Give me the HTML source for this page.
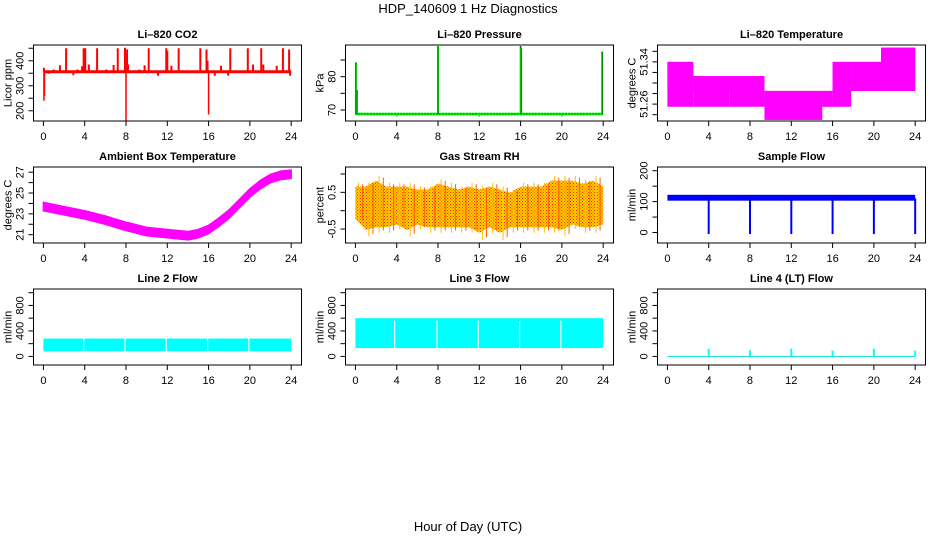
<!DOCTYPE html>
<html><head><meta charset="utf-8"><style>
body{margin:0;background:#fff}
svg{display:block;font-family:"Liberation Sans",sans-serif}
</style></head><body>
<svg id="c" width="936" height="540" xmlns="http://www.w3.org/2000/svg">
<defs>
<pattern id="rhpat" width="3" height="3" patternUnits="userSpaceOnUse">
<rect width="3" height="3" fill="#ffd000"/><rect width="1" height="1" fill="#ff2000"/><rect x="1.5" y="1.5" width="1" height="1" fill="#ff2000"/>
</pattern>
</defs>
<text x="468" y="13" text-anchor="middle" font-size="13">HDP_140609  1 Hz Diagnostics</text>
<text x="468" y="531" text-anchor="middle" font-size="13">Hour of Day (UTC)</text>
</svg>
<script>
const xTicks=[0,4,8,12,16,20,24];
// CO2
const co2Base=[350,362];
const co2SpikeT=[2.2,3.9,4.05,5.2,7.2,7.9,8.1,10.2,11.9,12.0,13.1,15.2,15.8,18.1,19.8,21.1,23.2,23.8];
const co2SpikeV=[450,450,450,450,450,452,445,450,450,440,450,450,445,450,450,450,450,445];
const co2SmallT=[0.05,0.5,1.0,1.6,2.9,3.3,3.75,4.4,6.1,6.8,8.2,9.3,9.8,11.1,12.4,14.1,15.9,16.6,17.2,17.9,19.1,20.3,21.3,22.6,23.9];
const co2SmallV=[372,348,365,382,342,365,378,385,365,383,385,365,382,340,380,360,400,340,380,340,360,385,385,380,340];
const co2DipT=[0.05,0.1,8.0,16.0];
const co2DipV=[240,260,160,185];
// Pressure
const presBase=68.8;
const presSpikeT=[0.05,0.15,8.0,16.0,16.05,23.9];
const presSpikeV=[84.3,76,89.2,89.2,88.5,87.5];
// Li-820 temperature segments
const tempStart=[0,2.5,6,9.4,15,16,17.8,20.7];
const tempEnd=[2.5,6,9.4,15,16,17.8,20.7,24];
const tempLo=[51.255,51.255,51.285,51.23,51.255,51.285,51.285,51.285];
const tempHi=[51.34,51.313,51.313,51.285,51.285,51.34,51.34,51.367];
const tempLo2=[51.285,51.285,51.255,51.255,51.255,51.255,51.285,51.285];
// Ambient box temperature
const ambT=[0,2,4,6,8,10,12,14,15,16,17,18,19,20,21,22,23,24];
const ambV=[23.7,23.3,22.9,22.4,21.8,21.3,21.1,20.9,21.1,21.5,22.2,23.0,24.0,25.0,25.8,26.4,26.7,26.8];
// RH hourly min/max
const rhT=[0,1,2,3,4,5,6,7,8,9,10,11,12,13,14,15,16,17,18,19,20,21,22,23,24];
const rhLo=[-0.3,-0.7,-0.6,-0.6,-0.5,-0.7,-0.5,-0.6,-0.6,-0.6,-0.6,-0.6,-0.8,-0.6,-0.8,-0.6,-0.6,-0.6,-0.6,-0.6,-0.7,-0.5,-0.6,-0.6,-0.5];
const rhHi=[0.8,0.8,1.0,0.8,0.8,0.8,0.7,0.7,0.9,0.8,0.7,0.8,0.7,0.8,0.7,0.6,0.8,0.8,0.8,1.0,1.0,1.0,0.9,1.0,0.8];
// Sample flow
const sfBand=[103,122];
const sfDipT=[4,8,12,16,20,24];
const sfDipV=[-5,-5,-5,-5,-5,-5];
// Line flows
const l2Band=[80,280];
const l2Gaps=[3.9,7.9,11.9,15.9,19.9];
const l3Band=[130,600];
const l3Gaps=[3.8,7.9,11.9,15.9,19.9];
const l4SpikeT=[4,8,12,16,20,24];
const l4SpikeV=[120,95,120,90,120,90];

const svg=document.getElementById('c');
const NS='http://www.w3.org/2000/svg';
function el(tag,attrs,parent){const e=document.createElementNS(NS,tag);for(const k in attrs)e.setAttribute(k,attrs[k]);(parent||svg).appendChild(e);return e;}
const colL=[33.5,345.5,657.5],rowT=[45,167,289],W=268,H=76;
function panel(c,r,name,title,ylab,ymin,ymax,ticks,labels){
  const g=el('g',{});
  
  
  const L=colL[c],T=rowT[r];
  const sx=v=>L+(v+0.96)/25.96*W;
  const sy=v=>T+H-(v-ymin)/(ymax-ymin)*H;
  const plot=el('g',{},g);
  
  
  const t=el('text',{x:L+W/2,y:T-7,'text-anchor':'middle','font-size':11,'font-weight':'bold'},g);t.textContent=title;
  
  
  const bx=el('rect',{x:L,y:T,width:W,height:H,fill:'none',stroke:'#000','stroke-width':1},g);
  
  
  el('line',{x1:sx(0),x2:sx(24),y1:T+H,y2:T+H,stroke:'#000'},g);
  xTicks.forEach(v=>{el('line',{x1:sx(v),x2:sx(v),y1:T+H,y2:T+H+5,stroke:'#000'},g);
    const tl=el('text',{x:sx(v),y:T+H+19,'text-anchor':'middle','font-size':11},g);tl.textContent=v;
    
    });
  el('line',{x1:L,x2:L,y1:sy(ticks[0]),y2:sy(ticks[ticks.length-1]),stroke:'#000'},g);
  ticks.forEach(v=>el('line',{x1:L-5,x2:L,y1:sy(v),y2:sy(v),stroke:'#000'},g));
  labels.forEach(v=>{const y=sy(v);const tl=el('text',{x:L-14,y:y,'text-anchor':'middle','font-size':11,transform:`rotate(-90 ${L-14} ${y})`,dy:'0.35em'},g);tl.textContent=v;
    
    });
  const yl=el('text',{x:L-26,y:T+H/2,'text-anchor':'middle','font-size':11,transform:`rotate(-90 ${L-26} ${T+H/2})`,dy:'0.35em'},g);yl.textContent=ylab;
  
  
  return {sx,sy,g:plot};
}
function vline(p,t,a,b,col,w){el('line',{x1:p.sx(t),x2:p.sx(t),y1:p.sy(a),y2:p.sy(b),stroke:col,'stroke-width':w||1.5},p.g);}
function band(p,t0,t1,a,b,fill){el('rect',{x:p.sx(t0),y:p.sy(b),width:p.sx(t1)-p.sx(t0),height:p.sy(a)-p.sy(b),fill:fill},p.g);}

// CO2
let p=panel(0,0,'co2','Li\u2013820 CO2','Licor ppm',159,463,[200,250,300,350,400,450],[200,300,400]);
band(p,0,24,co2Base[0],co2Base[1],'#ff0000');
co2SpikeT.forEach((t,i)=>vline(p,t,355,co2SpikeV[i],'#ff0000',2));
co2SmallT.forEach((t,i)=>vline(p,t,355,co2SmallV[i],'#ff0000',2));
co2DipT.forEach((t,i)=>vline(p,t,355,co2DipV[i],'#ff0000',1.5));
// Pressure
p=panel(1,0,'pressure','Li\u2013820 Pressure','kPa',66.7,89.5,[70,75,80,85],[70,80]);
band(p,0,24,presBase-0.4,presBase+0.4,'#00ff00');
el('line',{x1:p.sx(0),x2:p.sx(24),y1:p.sy(presBase),y2:p.sy(presBase),stroke:'#000','stroke-dasharray':'1 2'},p.g);
presSpikeT.forEach((t,i)=>{vline(p,t,presBase,presSpikeV[i],'#00ff00',2);vline(p,t,presBase,presSpikeV[i],'#000',0.6);});
[4,12,20].forEach(t=>vline(p,t,presBase,presBase-0.8,'#00ff00',1.5));
// Li-820 Temperature
p=panel(2,0,'li820-temp','Li\u2013820 Temperature','degrees C',51.228,51.372,[51.24,51.26,51.28,51.30,51.32,51.34,51.36],[51.26,51.34]);
tempStart.forEach((s,i)=>{band(p,s,tempEnd[i],tempLo[i],tempHi[i],'#ff00ff');band(p,s,tempEnd[i],tempLo2[i],tempHi[i],'#ff00ff');});
// Ambient
p=panel(0,1,'ambient-temp','Ambient Box Temperature','degrees C',20.2,27.5,[21,22,23,24,25,26,27],[21,23,25,27]);
{let top=ambT.map((t,i)=>p.sx(t)+','+p.sy(ambV[i]+0.4)).join(' ');let bot=ambT.slice().reverse().map((t,j)=>{const i=ambT.length-1-j;return p.sx(t)+','+p.sy(ambV[i]-0.4);}).join(' ');
el('polygon',{points:top+' '+bot,fill:'#ff00ff',stroke:'#ff00ff','stroke-width':1.5},p.g);}
// RH
p=panel(1,1,'gas-rh','Gas Stream RH','percent',-0.88,1.19,[-0.5,0,0.5,1.0],[-0.5,0.5]);
{let top=rhT.map((t,i)=>p.sx(t)+','+p.sy(rhHi[i]*0.82)).join(' ');let bot=rhT.slice().reverse().map((t,j)=>{const i=rhT.length-1-j;return p.sx(t)+','+p.sy(rhLo[i]*0.75);}).join(' ');
el('polygon',{points:top+' '+bot,fill:'url(#rhpat)'},p.g);
rhT.forEach((t,i)=>{if(i<24){vline(p,t+0.3,rhLo[i],rhHi[i]*0.95,'#ffc000',1);vline(p,t+0.7,rhLo[i]*0.9,rhHi[i]*0.9,'#ff6000',1);}});}
// Sample flow
p=panel(2,1,'sample-flow','Sample Flow','ml/min',-34,212,[0,50,100,150,200],[0,100,200]);
band(p,0,24,sfBand[0],sfBand[1],'#0000ff');
sfDipT.forEach((t,i)=>vline(p,t,110,sfDipV[i],'#0000ff',2));
// Line 2
p=panel(0,2,'line2-flow','Line 2 Flow','ml/min',-135,1058,[0,200,400,600,800,1000],[0,400,800]);
band(p,0,24,l2Band[0],l2Band[1],'#00ffff');
l2Gaps.forEach(t=>vline(p,t,l2Band[0],l2Band[1]+10,'#fff',1.2));
// Line 3
p=panel(1,2,'line3-flow','Line 3 Flow','ml/min',-135,1058,[0,200,400,600,800,1000],[0,400,800]);
band(p,0,24,l3Band[0],l3Band[1],'#00ffff');
l3Gaps.forEach(t=>vline(p,t,l3Band[0],l3Band[1]-40,'#fff',1.2));
// Line 4
p=panel(2,2,'line4-flow','Line 4 (LT) Flow','ml/min',-135,1058,[0,200,400,600,800,1000],[0,400,800]);
el('line',{x1:p.sx(0),x2:p.sx(24),y1:p.sy(0),y2:p.sy(0),stroke:'#00e0e0','stroke-width':1},p.g);
l4SpikeT.forEach((t,i)=>vline(p,t,0,l4SpikeV[i],'#00ffff',2));
</script>
</body></html>
